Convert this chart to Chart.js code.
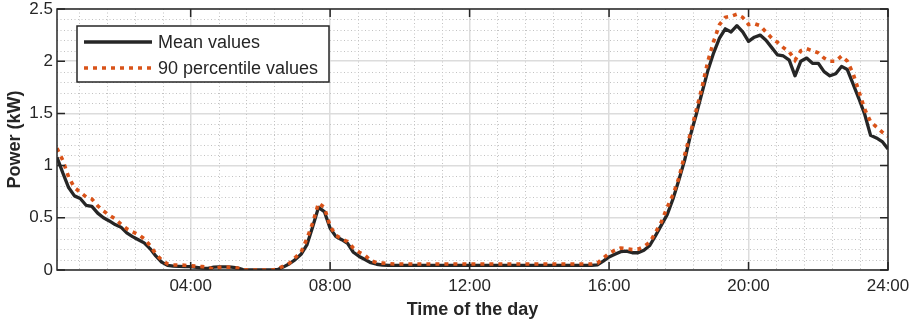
<!DOCTYPE html>
<html>
<head>
<meta charset="utf-8">
<title>Power over the day</title>
<script src="https://cdn.jsdelivr.net/npm/chart.js@4.4.1/dist/chart.umd.min.js"></script>
<style>
  html, body { margin: 0; padding: 0; background: #ffffff; }
</style>
</head>
<body>
<canvas id="chart" width="913" height="326"></canvas>
<script>
// samples every 10 minutes, first one at 00:10, last at 24:00
var stepHours = 1 / 6;

var meanValues = [
    1.08, 0.93, 0.79, 0.71, 0.685, 0.62, 0.61, 0.545, 0.50, 0.47, 0.435, 0.41,
    0.355, 0.32, 0.29, 0.26, 0.205, 0.135, 0.075, 0.045, 0.037, 0.035, 0.033, 0.032,
    0.025, 0.018, 0.016, 0.028, 0.03, 0.03, 0.028, 0.02, 0.003, 0, 0, 0,
    0, 0, 0.005, 0.03, 0.06, 0.10, 0.15, 0.24, 0.415, 0.60, 0.56, 0.40,
    0.32, 0.29, 0.255, 0.17, 0.13, 0.10, 0.07, 0.055, 0.048, 0.045, 0.045, 0.045,
    0.045, 0.045, 0.045, 0.045, 0.045, 0.045, 0.045, 0.045, 0.045, 0.045, 0.045, 0.045,
    0.045, 0.045, 0.045, 0.045, 0.045, 0.045, 0.045, 0.045, 0.045, 0.045, 0.045, 0.045,
    0.045, 0.045, 0.045, 0.045, 0.045, 0.045, 0.045, 0.045, 0.045, 0.05, 0.085, 0.125,
    0.15, 0.175, 0.18, 0.165, 0.165, 0.19, 0.235, 0.33, 0.43, 0.53, 0.68, 0.86,
    1.05, 1.29, 1.49, 1.70, 1.91, 2.08, 2.22, 2.31, 2.28, 2.34, 2.28, 2.19,
    2.23, 2.25, 2.20, 2.13, 2.06, 2.05, 2.01, 1.86, 2.0, 2.03, 1.98, 1.98,
    1.90, 1.86, 1.88, 1.95, 1.92, 1.78, 1.64, 1.49, 1.29, 1.265, 1.23, 1.16
];

var p90Values = [
    1.166, 1.05, 0.89, 0.79, 0.745, 0.70, 0.68, 0.615, 0.565, 0.525, 0.49, 0.44,
    0.395, 0.365, 0.34, 0.30, 0.235, 0.155, 0.095, 0.06, 0.048, 0.048, 0.045, 0.04,
    0.036, 0.032, 0.028, 0.005, 0.025, 0.028, 0.025, 0.018, 0.003, 0, 0, 0,
    0, 0, 0.01, 0.04, 0.065, 0.12, 0.17, 0.30, 0.45, 0.64, 0.60, 0.42,
    0.33, 0.30, 0.27, 0.21, 0.17, 0.14, 0.09, 0.07, 0.066, 0.062, 0.057, 0.057,
    0.057, 0.057, 0.057, 0.057, 0.057, 0.057, 0.057, 0.057, 0.057, 0.057, 0.057, 0.057,
    0.057, 0.057, 0.057, 0.057, 0.057, 0.057, 0.057, 0.057, 0.057, 0.057, 0.057, 0.057,
    0.057, 0.057, 0.057, 0.057, 0.057, 0.057, 0.057, 0.057, 0.057, 0.065, 0.115, 0.16,
    0.19, 0.21, 0.205, 0.195, 0.20, 0.225, 0.265, 0.36, 0.46, 0.60, 0.72, 0.88,
    1.10, 1.31, 1.53, 1.75, 2.0, 2.19, 2.35, 2.42, 2.43, 2.45, 2.42, 2.35,
    2.36, 2.34, 2.28, 2.22, 2.18, 2.13, 2.09, 2.01, 2.10, 2.12, 2.10, 2.08,
    2.03, 2.0, 2.0, 2.05, 2.0, 1.88, 1.71, 1.54, 1.42, 1.37, 1.32, 1.28
];

var seriesNames = ['Mean values', '90 percentile values'];

var xTickHours = [4, 8, 12, 16, 20, 24];
var xTickLabels = ['04:00', '08:00', '12:00', '16:00', '20:00', '24:00'];
var yTickValues = [0, 0.5, 1, 1.5, 2, 2.5];
var yTickLabels = ['0', '0.5', '1', '1.5', '2', '2.5'];

var axisColor = '#262626';
var gridColor = '#dcdcdc';
var minorColor = '#c2c2c2';
var fontFamily = '"Liberation Sans", Arial, Helvetica, sans-serif';

function toPoints(values) {
    return values.map(function (v, i) {
        return { x: (i + 1) * stepHours, y: v };
    });
}

// dotted minor grid, 5 steps between the major ticks
var minorGrid = {
    id: 'minorGrid',
    beforeDatasetsDraw: function (chart) {
        var ctx = chart.ctx;
        var a = chart.chartArea;
        var xs = chart.scales.x;
        var ys = chart.scales.y;
        ctx.save();
        ctx.strokeStyle = minorColor;
        ctx.lineWidth = 1;
        ctx.setLineDash([1, 2.5]);
        ctx.beginPath();
        for (var k = 1; k < 30; k++) {
            if (k % 5 === 0) continue;
            var px = Math.round(xs.getPixelForValue(k * 0.8)) + 0.5;
            ctx.moveTo(px, a.top);
            ctx.lineTo(px, a.bottom);
        }
        for (var j = 1; j < 25; j++) {
            if (j % 5 === 0) continue;
            var py = Math.round(ys.getPixelForValue(j * 0.1)) + 0.5;
            ctx.moveTo(a.left, py);
            ctx.lineTo(a.right, py);
        }
        ctx.stroke();
        ctx.restore();
    }
};

// closed box with inward ticks on all four sides
var axesBox = {
    id: 'axesBox',
    afterDatasetsDraw: function (chart) {
        var ctx = chart.ctx;
        var a = chart.chartArea;
        var xs = chart.scales.x;
        var ys = chart.scales.y;
        var len = 8;
        ctx.save();
        ctx.setLineDash([]);
        ctx.strokeStyle = axisColor;
        ctx.lineWidth = 1.5;
        ctx.strokeRect(a.left, a.top, a.right - a.left, a.bottom - a.top);
        ctx.beginPath();
        xs.ticks.forEach(function (t) {
            var px = xs.getPixelForValue(t.value);
            ctx.moveTo(px, a.bottom);
            ctx.lineTo(px, a.bottom - len);
            ctx.moveTo(px, a.top);
            ctx.lineTo(px, a.top + len);
        });
        ys.ticks.forEach(function (t) {
            var py = ys.getPixelForValue(t.value);
            ctx.moveTo(a.left, py);
            ctx.lineTo(a.left + len, py);
            ctx.moveTo(a.right, py);
            ctx.lineTo(a.right - len, py);
        });
        ctx.stroke();
        ctx.restore();
    }
};

// framed legend in the upper left corner of the plot
var boxLegend = {
    id: 'boxLegend',
    afterDraw: function (chart) {
        var ctx = chart.ctx;
        var a = chart.chartArea;
        var left = a.left + 20;
        var top = a.top + 17;
        var w = 252;
        var h = 56;
        ctx.save();
        ctx.fillStyle = '#ffffff';
        ctx.fillRect(left, top, w, h);
        ctx.strokeStyle = axisColor;
        ctx.lineWidth = 1.5;
        ctx.strokeRect(left, top, w, h);
        chart.data.datasets.forEach(function (ds, i) {
            var rowY = top + 16 + i * 26;
            ctx.beginPath();
            ctx.setLineDash(ds.borderDash || []);
            ctx.lineWidth = ds.borderWidth;
            ctx.strokeStyle = ds.borderColor;
            ctx.moveTo(left + 7, rowY);
            ctx.lineTo(left + 75, rowY);
            ctx.stroke();
            ctx.setLineDash([]);
            ctx.fillStyle = axisColor;
            ctx.font = '18px ' + fontFamily;
            ctx.textBaseline = 'middle';
            ctx.textAlign = 'left';
            ctx.fillText(ds.label, left + 81, rowY + 1);
        });
        ctx.restore();
    }
};

var options = {
    responsive: false,
    animation: false,
    layout: {
        padding: { top: 9, right: 25, bottom: 0, left: 0 }
    },
    elements: {
        point: { radius: 0 },
        line: { tension: 0 }
    },
    plugins: {
        legend: { display: false },
        tooltip: { enabled: false }
    },
    scales: {
        x: {
            type: 'linear',
            min: stepHours,
            max: 24,
            afterBuildTicks: function (scale) {
                scale.ticks = xTickHours.map(function (h) { return { value: h }; });
            },
            afterFit: function (scale) {
                scale.height = 56;
                scale.paddingLeft = 0;
                scale.paddingRight = 0;
            },
            ticks: {
                autoSkip: false,
                maxRotation: 0,
                padding: 6,
                color: axisColor,
                font: { family: fontFamily, size: 17 },
                callback: function (v) {
                    return xTickLabels[xTickHours.indexOf(v)];
                }
            },
            grid: { color: gridColor, lineWidth: 1.5, drawTicks: false },
            border: { display: false },
            title: {
                display: true,
                text: 'Time of the day',
                color: axisColor,
                font: { family: fontFamily, size: 18, weight: 'bold' },
                padding: { top: 0, bottom: 5 }
            }
        },
        y: {
            min: 0,
            max: 2.5,
            afterBuildTicks: function (scale) {
                scale.ticks = yTickValues.map(function (v) { return { value: v }; });
            },
            afterFit: function (scale) {
                scale.width = 57;
                scale.paddingTop = 0;
                scale.paddingBottom = 0;
            },
            ticks: {
                padding: 4,
                color: axisColor,
                font: { family: fontFamily, size: 17 },
                callback: function (v) {
                    return yTickLabels[yTickValues.indexOf(v)];
                }
            },
            grid: { color: gridColor, lineWidth: 1.5, drawTicks: false },
            border: { display: false },
            title: {
                display: true,
                text: 'Power (kW)',
                color: axisColor,
                font: { family: fontFamily, size: 18, weight: 'bold' },
                padding: { top: 4, bottom: 0 }
            }
        }
    }
};

var chart = new Chart(document.getElementById('chart'), {
    type: 'line',
    data: {
        datasets: [{
            label: seriesNames[0],
            data: toPoints(meanValues),
            borderColor: '#262626',
            borderWidth: 3.3,
            borderJoinStyle: 'round',
            order: 1
        }, {
            label: seriesNames[1],
            data: toPoints(p90Values),
            borderColor: '#d95319',
            borderWidth: 3.6,
            borderDash: [4, 5],
            borderCapStyle: 'butt',
            order: 0
        }]
    },
    options: options,
    plugins: [minorGrid, axesBox, boxLegend]
});
</script>
</body>
</html>
